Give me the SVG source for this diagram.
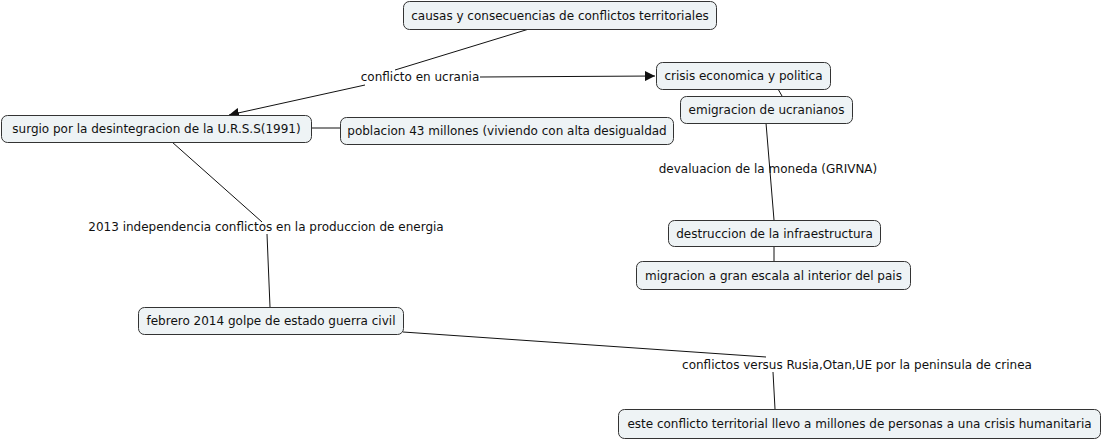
<svg xmlns="http://www.w3.org/2000/svg" width="1102" height="441" viewBox="0 0 1102 441">
<style>
.node rect{fill:#eef3f5;stroke:#333;stroke-width:1}
text{font-family:"DejaVu Sans",Verdana,sans-serif;font-size:12px;fill:#111;text-anchor:middle;dominant-baseline:central}
.conn line{stroke:#111;stroke-width:1}
</style>
<defs>
<marker id="arr" viewBox="0 0 10 10" refX="10" refY="5" markerWidth="10" markerHeight="10" markerUnits="userSpaceOnUse" orient="auto">
<path d="M0,0 L10,5 L0,10 z" fill="#111"/>
</marker>
</defs>
<rect width="1102" height="441" fill="#fff"/>
<g class="conn">
<line x1="529" y1="29" x2="395" y2="70"/>
<line x1="480" y1="77" x2="655" y2="76" marker-end="url(#arr)"/>
<line x1="365" y1="85" x2="229" y2="115" marker-end="url(#arr)"/>
<line x1="778" y1="89" x2="782" y2="96"/>
<line x1="766" y1="123" x2="774" y2="220"/>
<line x1="774" y1="246" x2="774" y2="261"/>
<line x1="311" y1="128" x2="340" y2="128"/>
<line x1="172" y1="142" x2="262" y2="222"/>
<line x1="267" y1="234" x2="270" y2="307"/>
<line x1="403" y1="332" x2="766" y2="357"/>
<line x1="773" y1="372" x2="775" y2="409"/>
</g>
<g id="lbl1"><text x="420" y="77">conflicto en ucrania</text></g>
<g id="lbl2"><text x="768" y="169">devaluacion de la moneda (GRIVNA)</text></g>
<g id="lbl3"><text x="266" y="227">2013 independencia conflictos en la produccion de energia</text></g>
<g id="lbl4"><text x="857" y="365">conflictos versus Rusia,Otan,UE por la peninsula de crinea</text></g>
<g id="n1" class="node"><rect x="403.5" y="1.5" width="313" height="28" rx="6"/><text x="560" y="15.5">causas y consecuencias de conflictos territoriales</text></g>
<g id="n2" class="node"><rect x="656.5" y="62.5" width="174" height="27" rx="6"/><text x="743.5" y="76">crisis economica y politica</text></g>
<g id="n3" class="node"><rect x="680.5" y="96.5" width="172" height="27" rx="6"/><text x="766.5" y="110">emigracion de ucranianos</text></g>
<g id="n4" class="node"><rect x="1.5" y="115.5" width="310" height="27" rx="6"/><text x="156.5" y="129">surgio por la desintegracion de la U.R.S.S(1991)</text></g>
<g id="n5" class="node"><rect x="340.5" y="117.5" width="333" height="27" rx="6"/><text x="507" y="131">poblacion 43 millones (viviendo con alta desigualdad</text></g>
<g id="n6" class="node"><rect x="668.5" y="220.5" width="212" height="26" rx="6"/><text x="774.5" y="233.5">destruccion de la infraestructura</text></g>
<g id="n7" class="node"><rect x="636.5" y="261.5" width="274" height="28" rx="6"/><text x="773.5" y="275.5">migracion a gran escala al interior del pais</text></g>
<g id="n8" class="node"><rect x="138.5" y="307.5" width="265" height="27" rx="6"/><text x="271" y="321">febrero 2014 golpe de estado guerra civil</text></g>
<g id="n9" class="node"><rect x="618.5" y="409.5" width="482" height="29" rx="6"/><text x="859.5" y="424">este conflicto territorial llevo a millones de personas a una crisis humanitaria</text></g>
</svg>
